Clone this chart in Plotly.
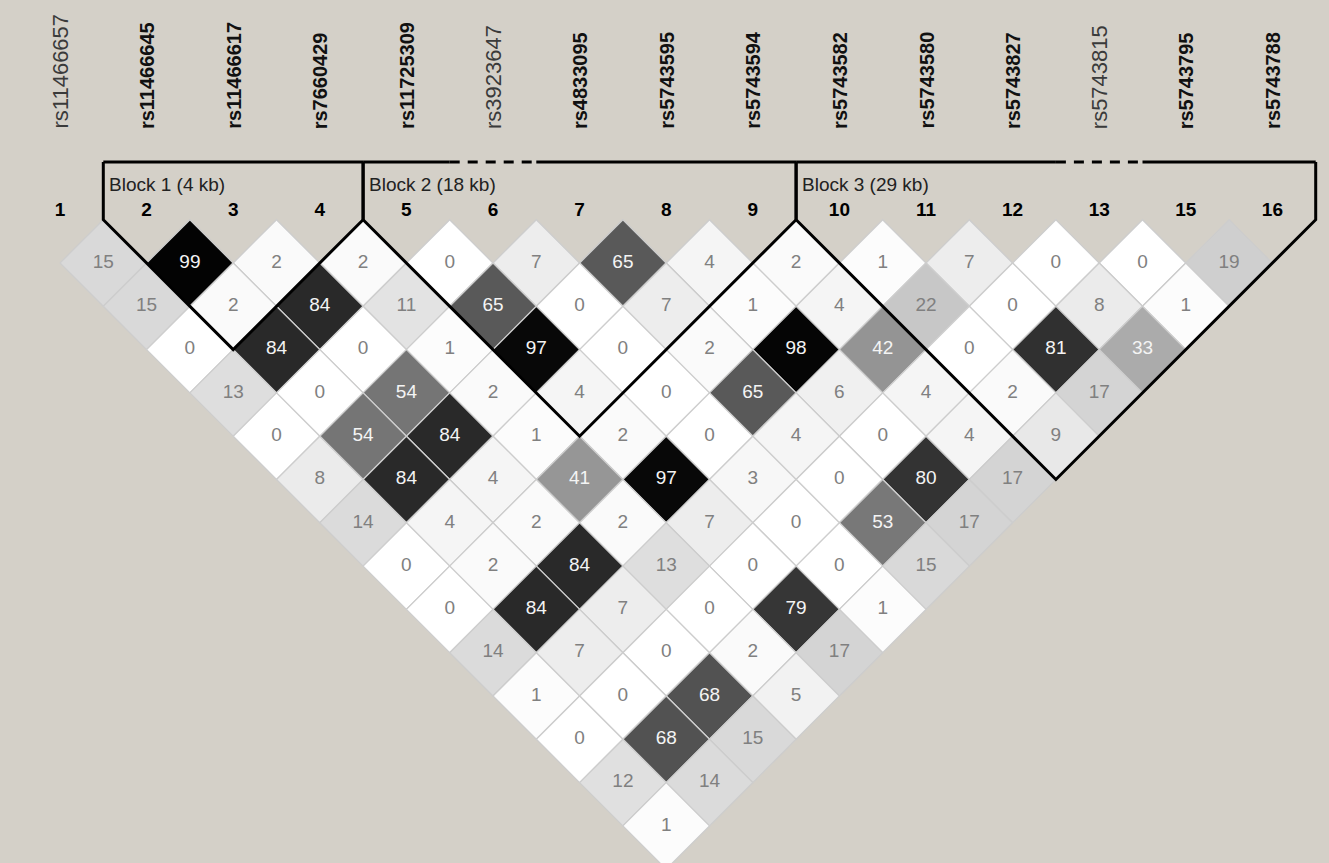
import plotly.graph_objects as go

# Markers along the region
marker_ids = ["1", "2", "3", "4", "5", "6", "7", "8", "9", "10", "11", "12", "13", "15", "16"]
marker_names = ["rs11466657", "rs11466645", "rs11466617", "rs7660429", "rs11725309",
                "rs3923647", "rs4833095", "rs5743595", "rs5743594", "rs5743582",
                "rs5743580", "rs5743827", "rs5743815", "rs5743795", "rs5743788"]
marker_bold = [False, True, True, True, True, False, True, True, True, True,
               True, True, False, True, True]

# Pairwise r^2 (x100); r2_by_gap[k][i] is the pair (i, i + k + 1)
r2_by_gap = [
    [15, 99, 2, 2, 0, 7, 65, 4, 2, 1, 7, 0, 0, 19],
    [15, 2, 84, 11, 65, 0, 7, 1, 4, 22, 0, 8, 1],
    [0, 84, 0, 1, 97, 0, 2, 98, 42, 0, 81, 33],
    [13, 0, 54, 2, 4, 0, 65, 6, 4, 2, 17],
    [0, 54, 84, 1, 2, 0, 4, 0, 4, 9],
    [8, 84, 4, 41, 97, 3, 0, 80, 17],
    [14, 4, 2, 2, 7, 0, 53, 17],
    [0, 2, 84, 13, 0, 0, 15],
    [0, 84, 7, 0, 79, 1],
    [14, 7, 0, 2, 17],
    [1, 0, 68, 5],
    [0, 68, 15],
    [12, 14],
    [1],
]

# Haplotype blocks (marker indices, inclusive)
block_labels = ["Block 1 (4 kb)", "Block 2 (18 kb)", "Block 3 (29 kb)"]
block_first = [1, 4, 9]
block_last = [3, 8, 14]
dashed_markers = [5, 12]

# Canvas geometry: one marker spacing = one axis unit
W, H = 1329, 863
X0_PX, STEP_PX, Y0_PX = 60.0, 86.6, 219.7


def ypx(px):
    return (px - Y0_PX) / STEP_PX


BG = "#d4d0c8"
FONT = "Liberation Sans, Arial, sans-serif"

fig = go.Figure()

# LD diamonds
txt_x, txt_y, txt_s, txt_c = [], [], [], []
for k, row in enumerate(r2_by_gap):
    d = k + 1
    for i, v in enumerate(row):
        j = i + d
        cx, cy = (i + j) / 2.0, d / 2.0
        g = int(round(255 * (1 - v / 100.0)))
        fig.add_trace(go.Scatter(
            x=[cx - 0.5, cx, cx + 0.5, cx, cx - 0.5],
            y=[cy, cy - 0.5, cy, cy + 0.5, cy],
            mode="lines", fill="toself",
            fillcolor=f"rgb({g},{g},{g})",
            line=dict(color="#cdcdcd", width=1.3),
            hoverinfo="skip", showlegend=False,
        ))
        txt_x.append(cx)
        txt_y.append(cy)
        txt_s.append(str(v))
        txt_c.append("#f4f4f4" if v >= 30 else "#808080")

# Block outlines
y_top = ypx(162)
for a, b in zip(block_first, block_last):
    fig.add_trace(go.Scatter(
        x=[a - 0.5, a - 0.5, (a + b) / 2.0, b + 0.5, b + 0.5],
        y=[y_top, 0, (b - a + 1) / 2.0, 0, y_top],
        mode="lines", line=dict(color="black", width=3),
        hoverinfo="skip", showlegend=False,
    ))
    # header line, dashed over markers left out of the block
    cuts = [a - 0.5]
    styles = []
    for m in range(a, b + 1):
        if m in dashed_markers:
            if cuts[-1] < m - 0.5:
                cuts.append(m - 0.5)
                styles.append("solid")
            cuts.append(m + 0.5)
            styles.append("dash")
    if cuts[-1] < b + 0.5:
        cuts.append(b + 0.5)
        styles.append("solid")
    for s, (x1, x2) in zip(styles, zip(cuts[:-1], cuts[1:])):
        fig.add_trace(go.Scatter(
            x=[x1, x2], y=[y_top, y_top], mode="lines",
            line=dict(color="black", width=3,
                      dash="10px,8px" if s == "dash" else "solid"),
            hoverinfo="skip", showlegend=False,
        ))

# Cell values
fig.add_trace(go.Scatter(
    x=txt_x, y=txt_y, text=txt_s, mode="text",
    textfont=dict(family=FONT, size=19, color=txt_c),
    hoverinfo="skip", showlegend=False,
))

# Marker numbers
fig.add_trace(go.Scatter(
    x=list(range(len(marker_ids))), y=[ypx(211)] * len(marker_ids),
    text=[f"<b>{m}</b>" for m in marker_ids], mode="text",
    textfont=dict(family=FONT, size=19, color="black"),
    hoverinfo="skip", showlegend=False,
))

annotations = []
for i, (name, bold) in enumerate(zip(marker_names, marker_bold)):
    annotations.append(dict(
        x=i, y=ypx(131), xref="x", yref="y",
        text=f"<b>{name}</b>" if bold else name,
        textangle=-90, showarrow=False,
        xanchor="center", yanchor="bottom",
        font=dict(family=FONT, size=20 if bold else 22,
                  color="#111111" if bold else "#3a3a3a"),
    ))
for label, a in zip(block_labels, block_first):
    annotations.append(dict(
        x=a - 0.5 + 0.045, y=ypx(184), xref="x", yref="y",
        text=label, showarrow=False, xanchor="left", yanchor="middle",
        font=dict(family=FONT, size=19, color="#222222"),
    ))

fig.update_layout(
    width=W, height=H,
    margin=dict(l=0, r=0, t=0, b=0),
    paper_bgcolor=BG, plot_bgcolor=BG,
    xaxis=dict(range=[-X0_PX / STEP_PX, (W - X0_PX) / STEP_PX],
               visible=False, fixedrange=True),
    yaxis=dict(range=[ypx(H), ypx(0)], visible=False, fixedrange=True),
    annotations=annotations,
    showlegend=False,
)

fig.write_html("out.html")
